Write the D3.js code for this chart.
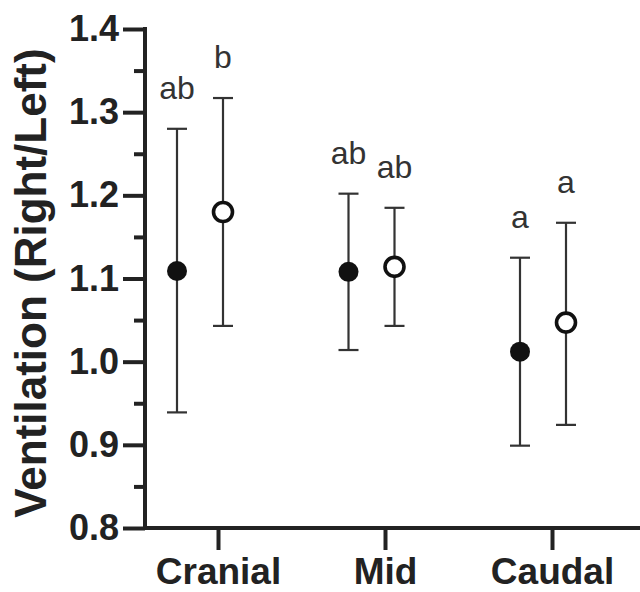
<!DOCTYPE html>
<html>
<head>
<meta charset="utf-8">
<script src="https://cdn.jsdelivr.net/npm/d3@7"></script>
<style>
  html, body { margin: 0; padding: 0; background: #fff; }
  text { font-family: Arial, "Liberation Sans", sans-serif; }
</style>
</head>
<body>
<div id="chart"></div>
<script>
  // categories and groups
  const categories = ['Cranial', 'Mid', 'Caudal'];
  const groups = ['filled', 'open'];

  // mean, upper and lower error bar values per category
  const filledMean = [1.109, 1.108, 1.012];
  const filledHigh = [1.280, 1.202, 1.125];
  const filledLow = [0.939, 1.014, 0.899];
  const openMean = [1.180, 1.114, 1.047];
  const openHigh = [1.317, 1.185, 1.167];
  const openLow = [1.043, 1.043, 0.924];

  // significance letters
  const filledLetters = ['ab', 'ab', 'a'];
  const openLetters = ['b', 'ab', 'a'];

  const yTicks = [0.8, 0.9, 1.0, 1.1, 1.2, 1.3, 1.4];
  const yMinorTicks = [0.85, 0.95, 1.05, 1.15, 1.25, 1.35];

  const width = 640;
  const height = 592;
  const ink = '#222';

  const svg = d3.select('#chart')
    .append('svg')
    .attr('width', width)
    .attr('height', height);

  const y = d3.scaleLinear()
    .domain([0.8, 1.4])
    .range([528, 29]);

  // axis ticks sit slightly right of the plotted groups
  const xTick = d3.scalePoint()
    .domain(categories)
    .range([218, 552]);

  const xGroup = d3.scalePoint()
    .domain(categories)
    .range([200, 543]);

  const dodge = d3.scalePoint()
    .domain(groups)
    .range([-23, 23]);

  const points = [];
  categories.forEach((c, i) => {
    points.push({cat: c, group: 'filled', mean: filledMean[i], high: filledHigh[i], low: filledLow[i], letter: filledLetters[i]});
    points.push({cat: c, group: 'open', mean: openMean[i], high: openHigh[i], low: openLow[i], letter: openLetters[i]});
  });

  const px = (d) => xGroup(d.cat) + dodge(d.group);

  // y axis
  const yAxis = svg.append('g')
    .attr('transform', 'translate(145,0)')
    .call(d3.axisLeft(y).tickValues(yTicks).tickSize(22).tickSizeOuter(0).tickPadding(4)
      .tickFormat(d3.format('.1f')));

  yAxis.select('.domain').remove();
  yAxis.selectAll('.tick line').attr('stroke', ink).attr('stroke-width', 4);
  yAxis.selectAll('.tick text')
    .attr('fill', ink)
    .attr('font-size', 36)
    .attr('font-weight', 'bold');

  const yMinor = svg.append('g')
    .attr('transform', 'translate(145,0)')
    .call(d3.axisLeft(y).tickValues(yMinorTicks).tickSize(11).tickSizeOuter(0).tickFormat(''));
  yMinor.select('.domain').remove();
  yMinor.selectAll('.tick line').attr('stroke', ink).attr('stroke-width', 4);

  svg.append('line')
    .attr('x1', 145).attr('x2', 145)
    .attr('y1', y(1.4) - 2).attr('y2', y(0.8) + 2)
    .attr('stroke', ink).attr('stroke-width', 4);

  // x axis
  const xAxis = svg.append('g')
    .attr('transform', `translate(0,${y(0.8)})`)
    .call(d3.axisBottom(xTick).tickSize(22).tickSizeOuter(0).tickPadding(8));

  xAxis.select('.domain').remove();
  xAxis.selectAll('.tick line').attr('stroke', ink).attr('stroke-width', 4);
  xAxis.selectAll('.tick text')
    .attr('fill', ink)
    .attr('font-size', 37)
    .attr('font-weight', 'bold');

  svg.append('line')
    .attr('x1', 143).attr('x2', width)
    .attr('y1', y(0.8)).attr('y2', y(0.8))
    .attr('stroke', ink).attr('stroke-width', 4);

  // y axis title
  svg.append('text')
    .attr('transform', 'translate(46,283) rotate(-90)')
    .attr('text-anchor', 'middle')
    .attr('font-size', 44)
    .attr('font-weight', 'bold')
    .attr('fill', ink)
    .text('Ventilation (Right/Left)');

  // error bars
  const bars = svg.append('g')
    .attr('stroke', '#333')
    .attr('stroke-width', 2.2);

  bars.selectAll('.stem')
    .data(points)
    .join('line')
    .attr('x1', px).attr('x2', px)
    .attr('y1', (d) => y(d.high)).attr('y2', (d) => y(d.low));

  bars.selectAll('.cap-high')
    .data(points)
    .join('line')
    .attr('x1', (d) => px(d) - 10).attr('x2', (d) => px(d) + 10)
    .attr('y1', (d) => y(d.high)).attr('y2', (d) => y(d.high));

  bars.selectAll('.cap-low')
    .data(points)
    .join('line')
    .attr('x1', (d) => px(d) - 10).attr('x2', (d) => px(d) + 10)
    .attr('y1', (d) => y(d.low)).attr('y2', (d) => y(d.low));

  // markers
  svg.append('g')
    .selectAll('circle')
    .data(points)
    .join('circle')
    .attr('cx', px)
    .attr('cy', (d) => y(d.mean))
    .attr('r', (d) => d.group === 'filled' ? 10 : 9.5)
    .attr('fill', (d) => d.group === 'filled' ? '#111' : '#fff')
    .attr('stroke', '#111')
    .attr('stroke-width', (d) => d.group === 'filled' ? 0 : 3.6);

  // letters
  svg.append('g')
    .selectAll('text')
    .data(points)
    .join('text')
    .attr('x', px)
    .attr('y', (d) => y(d.high) - 30)
    .attr('text-anchor', 'middle')
    .attr('font-size', 32)
    .attr('fill', '#333')
    .text((d) => d.letter);
</script>
</body>
</html>
